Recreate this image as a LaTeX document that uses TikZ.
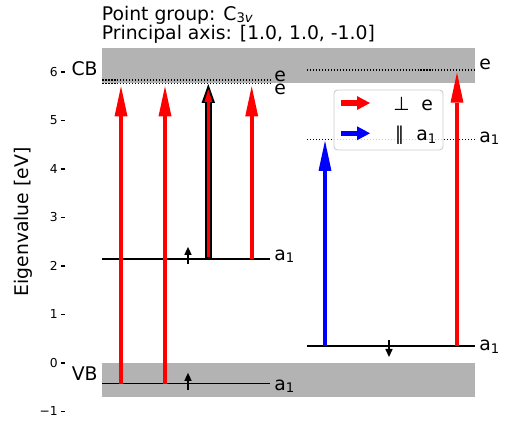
\documentclass[tikz,border=0pt]{standalone}
\usepackage{fontspec}
\setmainfont{DejaVu Sans}[ItalicFont={DejaVu Sans Oblique}]
\usepackage{xcolor}
\usetikzlibrary{arrows.meta, calc}
\definecolor{bandgray}{RGB}{179,179,179}
\newcommand{\lvsub}[1]{\raisebox{-0.12em}{\fontsize{7.5}{8}\selectfont #1}}

\begin{document}
\begin{tikzpicture}[x=0.02cm, y=0.97cm,
    level/.style={black, line width=0.75pt},
    dotlevel/.style={black, line width=0.6pt, dash pattern=on 0.6pt off 1.1pt},
    lbl/.style={anchor=base west, inner sep=0pt, font=\fontsize{10.7}{12.8}\selectfont},
    ticklbl/.style={anchor=east, inner sep=0pt, font=\fontsize{7}{8}\selectfont},
    trans/.style={line width=0.08cm, -{Triangle[length=0.6cm, width=0.26cm, line width=0pt]}},
    spin/.style={line width=0.05cm, -{Triangle[length=0.16cm, width=0.15cm, line width=0pt]}},
    legarrow/.style={line width=0.11cm, -{Triangle[length=0.26cm, width=0.28cm, line width=0pt]}}
]
\useasboundingbox (0,-1.2577) rectangle (505,7.4845);

% --- Title ---
\node[lbl] (title1) at (101.5,7.072) {Point group: C\lvsub{3\textit{v}}};
\node[lbl] (title2) at (101.5,6.68) {Principal axis: [1.0, 1.0, -1.0]};

% --- Axis ---
\node[rotate=90, anchor=base, inner sep=0pt, font=\fontsize{10.7}{12.8}\selectfont] (ylabel) at (28.7,2.907) {Eigenvalue [eV]};
\foreach \v/\t in {-1/−1, 0/0, 1/1, 2/2, 3/3, 4/4, 5/5, 6/6} {
    \draw[line width=0.7pt] (61,\v) -- (65.5,\v);
    \node[ticklbl] (tick\v) at (58,\v) {\t};
}

% --- Bands ---
\fill[bandgray] (102.5,5.78) rectangle (475,6.5);
\fill[bandgray] (102.5,-0.70) rectangle (475,0.0);
\node[lbl, anchor=base east] (cb) at (98,5.918) {CB};
\node[lbl, anchor=base east] (vb) at (98,-0.371) {VB};

% --- Levels (left) ---
\draw[dotlevel] (102.5,5.835) -- (270,5.835);
\draw[dotlevel] (102.5,5.753) coordinate (lE) -- (270,5.753);
\draw[level] (102.5,2.144) coordinate (lA) -- (270,2.144);
\draw[level] (102.5,-0.427) coordinate (vbA) -- (270,-0.427);
\node[lbl] (lEhi) at (274,5.81) {e};
\node[lbl] (lElo) at (274,5.535) {e};
\node[lbl] (lAlbl) at (274,2.113) {a\lvsub{1}};
\node[lbl] (vbAlbl) at (274,-0.561) {a\lvsub{1}};

% --- Levels (right) ---
\draw[dotlevel] (307,6.041) coordinate (rE) -- (475,6.041);
\draw[dotlevel] (307,4.598) coordinate (rAhi) -- (475,4.598);
\draw[level] (307,0.351) coordinate (rAlo) -- (475,0.351);
\node[lbl] (rElbl) at (479,6.055) {e};
\node[lbl] (rAhilbl) at (479,4.55) {a\lvsub{1}};
\node[lbl] (rAlolbl) at (479,0.247) {a\lvsub{1}};

% --- Spins ---
\draw[spin] ($(188,0 |- lA)+(0,-0.103)$) -- ++(0,0.351);
\draw[spin] ($(188,0 |- vbA)+(0,-0.13)$) -- ++(0,0.351);
\draw[spin] ($(389,0 |- rAlo)+(0,0.123)$) -- ++(0,-0.351);

% --- Transitions ---
\draw[trans, red] (121,0 |- vbA) -- ($(121,0 |- lE)+(0,-0.05)$);
\draw[trans, red] (165,0 |- vbA) -- ($(165,0 |- lE)+(0,-0.05)$);
\draw[line width=0.15cm, -{Triangle[length=0.38cm, width=0.27cm, line width=0pt]}]
    (208.3,0 |- lA) -- (208.3,0 |- lE);
\draw[line width=0.065cm, red, -{Triangle[length=0.25cm, width=0.16cm, line width=0pt]}]
    ($(208.3,0 |- lA)+(0,0.04)$) -- ($(208.3,0 |- lE)+(0,-0.11)$);
\draw[trans, red] (251.7,0 |- lA) -- ($(251.7,0 |- lE)+(0,-0.05)$);
\draw[trans, blue] (325,0 |- rAlo) -- ($(325,0 |- rAhi)+(0,-0.02)$);
\draw[trans, red] (457,0 |- rAlo) -- ($(457,0 |- rE)+(0,-0.055)$);

% --- Legend ---
\draw[draw=black!20, fill=white, fill opacity=0.8, rounded corners=0.07cm, line width=0.5pt]
    (334,4.392) rectangle (443,5.629);
\draw[legarrow, red] (341,5.36) -- (370,5.36);
\draw[legarrow, blue] (341,4.736) -- (370,4.736);
\node[lbl] (legperp) at (393,5.196) {⊥\hspace{0.234cm}e};
\node[lbl] (legpar) at (394.6,4.577) {∥\hspace{0.24cm}a\lvsub{1}};

\end{tikzpicture}
\end{document}
